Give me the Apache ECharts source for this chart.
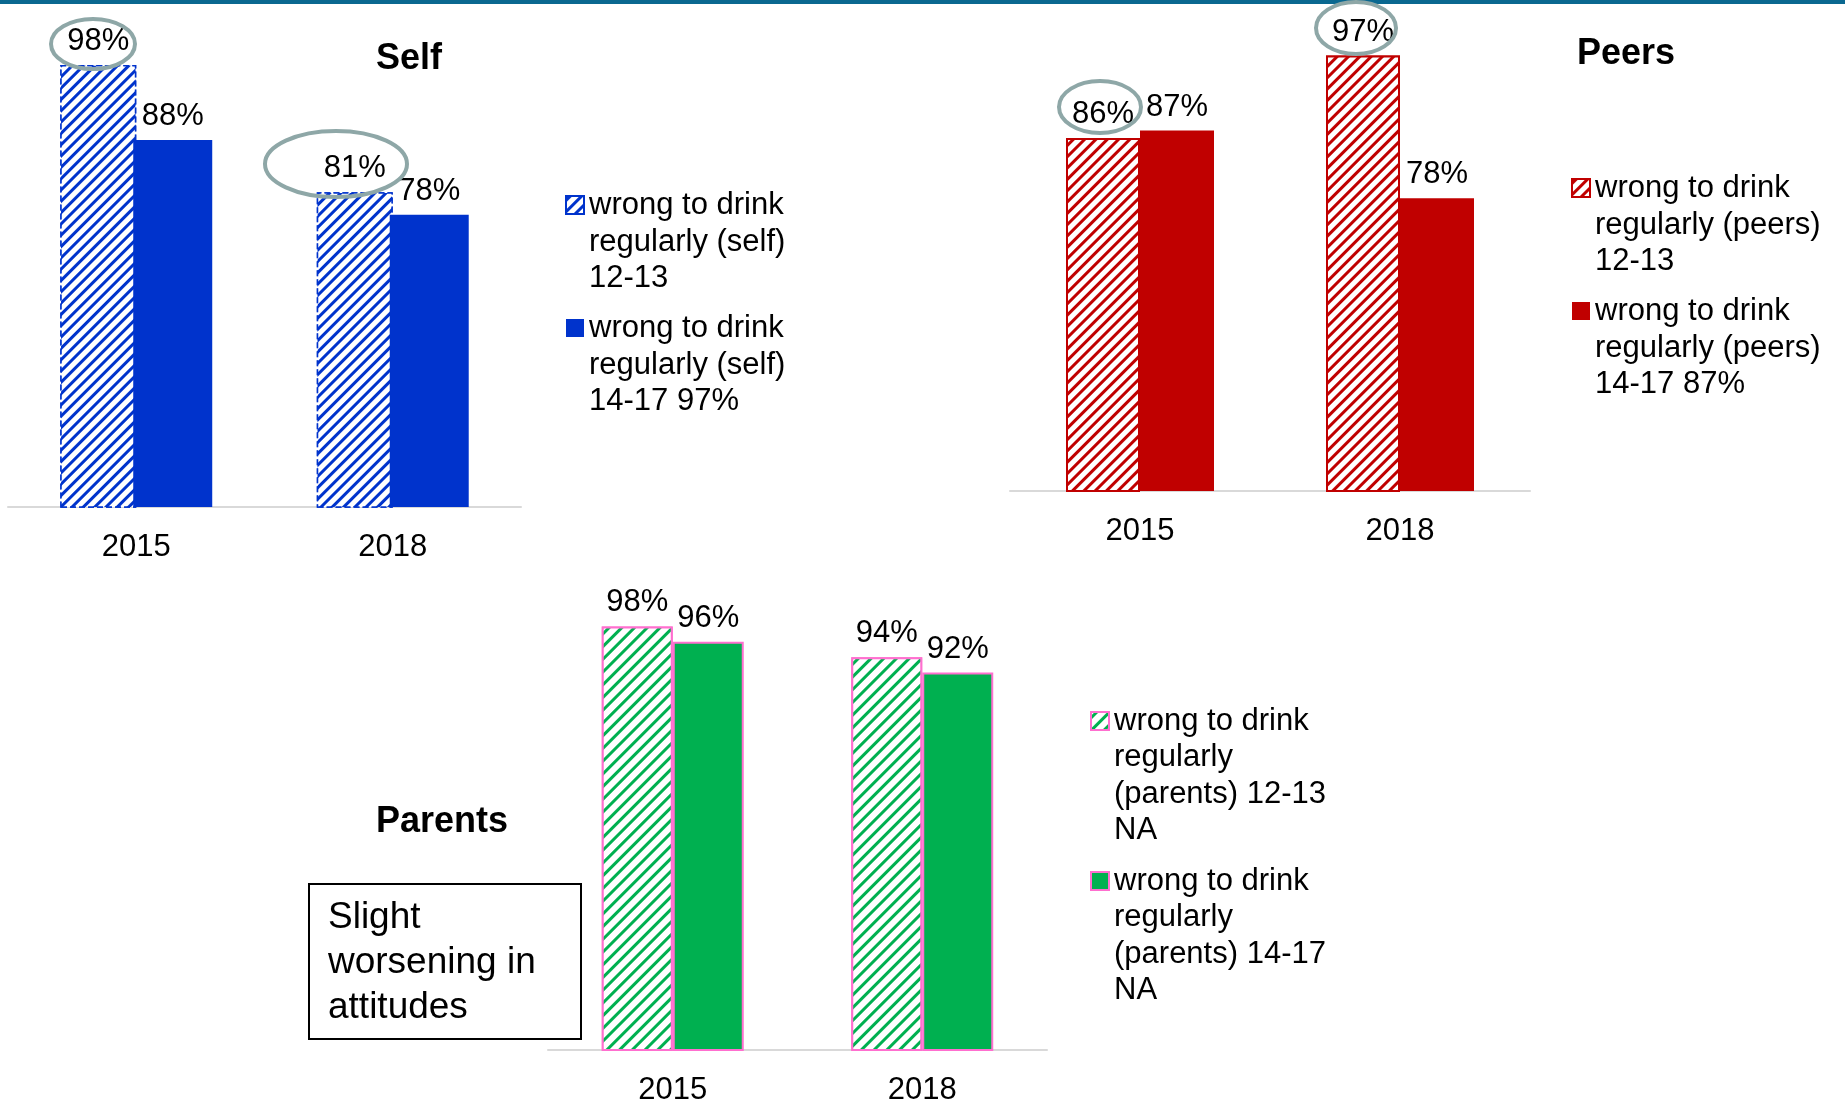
<!DOCTYPE html>
<html>
<head>
<meta charset="utf-8">
<title>wrong to drink regularly</title>
<script src="https://cdn.jsdelivr.net/npm/echarts@6/dist/echarts.min.js"></script>
<style>
  html, body { margin: 0; padding: 0; background: #fff; }
  #main { width: 1845px; height: 1109px; }
</style>
</head>
<body>
<div id="main"></div>
<script>
// categories
var years = ["2015", "2018"];

// self
var selfNames = ["wrong to drink\nregularly (self)\n12-13", "wrong to drink\nregularly (self)\n14-17 97%"];
var selfYoung = [98, 81];
var selfOlder = [88, 78];

// peers
var peersNames = ["wrong to drink\nregularly (peers)\n12-13", "wrong to drink\nregularly (peers)\n14-17 87%"];
var peersYoung = [86, 97];
var peersOlder = [87, 78];

// parents
var parentsNames = ["wrong to drink\nregularly\n(parents) 12-13\nNA", "wrong to drink\nregularly\n(parents) 14-17\nNA"];
var parentsYoung = [98, 94];
var parentsOlder = [96, 92];

var FONT = "'Liberation Sans', Arial, sans-serif";
var BLUE = "#0033cc", RED = "#c00000", GREEN = "#00b050", PINK = "#ff6fcf";

var myChart = echarts.init(document.getElementById("main"));

// diagonal hatch
function stripes(color, gap) {
  return {
    symbol: "rect",
    symbolSize: 1,
    color: color,
    backgroundColor: "#fff",
    dashArrayX: [1, 0],
    dashArrayY: [3, gap],
    rotation: -Math.PI / 4
  };
}

var barLabel = {
  show: true,
  position: "top",
  distance: 8,
  formatter: "{c}%",
  fontSize: 31,
  color: "#000",
  fontFamily: FONT
};

function xAxisFor(idx) {
  return {
    type: "category",
    gridIndex: idx,
    data: years,
    axisLine: { lineStyle: { color: "#d9d9d9", width: 2 } },
    axisTick: { show: false },
    axisLabel: { fontSize: 31, color: "#000", margin: 25, fontFamily: FONT }
  };
}

function yAxisFor(idx, min) {
  return { type: "value", gridIndex: idx, min: min, max: 100, show: false, splitLine: { show: false } };
}

// icon square sits on the first text line
function iconPath(h) {
  return "path://M0,0M18," + h + "M0,9h18v18h-18z";
}

function legendFor(names, left, top, h) {
  return {
    orient: "vertical",
    left: left,
    top: top,
    padding: 0,
    itemGap: 12,
    itemWidth: 18,
    itemHeight: h,
    icon: iconPath(h),
    selectedMode: false,
    data: names,
    textStyle: { fontSize: 31, lineHeight: 36.5, color: "#000", fontFamily: FONT }
  };
}

var titleStyle = { fontSize: 36, fontWeight: "bold", color: "#000", fontFamily: FONT };

var option = {
  animation: false,
  backgroundColor: "#fff",
  title: [
    { text: "Self", left: 376, top: 41, padding: 0, textStyle: titleStyle },
    { text: "Peers", left: 1577, top: 36, padding: 0, textStyle: titleStyle },
    { text: "Parents", left: 376, top: 804, padding: 0, textStyle: titleStyle }
  ],
  legend: [
    legendFor(selfNames, 565, 186, 110),
    legendFor(peersNames, 1571, 169, 110),
    legendFor(parentsNames, 1090, 702, 146)
  ],
  grid: [
    { left: 8, top: 50, width: 513, height: 457, outerBoundsMode: "none" },
    { left: 1010, top: 33, width: 520, height: 458, outerBoundsMode: "none" },
    { left: 548, top: 611, width: 499, height: 439, outerBoundsMode: "none" }
  ],
  xAxis: [xAxisFor(0), xAxisFor(1), xAxisFor(2)],
  yAxis: [yAxisFor(0, 39), yAxisFor(1, 39), yAxisFor(2, 43)],
  series: [
    {
      name: selfNames[0], type: "bar", xAxisIndex: 0, yAxisIndex: 0,
      data: selfYoung, barWidth: 76, barGap: "-4%", label: barLabel,
      itemStyle: { color: "#fff", decal: stripes(BLUE, 4.5), borderColor: BLUE, borderWidth: 1.5, borderType: "dashed" }
    },
    {
      name: selfNames[1], type: "bar", xAxisIndex: 0, yAxisIndex: 0,
      data: selfOlder, barWidth: 79, label: barLabel,
      itemStyle: { color: BLUE }
    },
    {
      name: peersNames[0], type: "bar", xAxisIndex: 1, yAxisIndex: 1,
      data: peersYoung, barWidth: 74, barGap: 0, label: barLabel,
      itemStyle: { color: "#fff", decal: stripes(RED, 5), borderColor: RED, borderWidth: 2 }
    },
    {
      name: peersNames[1], type: "bar", xAxisIndex: 1, yAxisIndex: 1,
      data: peersOlder, barWidth: 74, label: barLabel,
      itemStyle: { color: RED }
    },
    {
      name: parentsNames[0], type: "bar", xAxisIndex: 2, yAxisIndex: 2,
      data: parentsYoung, barWidth: 71, barGap: 0, label: barLabel,
      itemStyle: { color: "#fff", decal: stripes(GREEN, 5.5), borderColor: PINK, borderWidth: 2 }
    },
    {
      name: parentsNames[1], type: "bar", xAxisIndex: 2, yAxisIndex: 2,
      data: parentsOlder, barWidth: 71, label: barLabel,
      itemStyle: { color: GREEN, borderColor: PINK, borderWidth: 2 }
    }
  ],
  graphic: [
    // band along the top edge
    { type: "rect", shape: { x: 0, y: 0, width: 1845, height: 4 }, style: { fill: "#0a6890" } },
    // callout ellipses
    { type: "ellipse", z: 100, shape: { cx: 93, cy: 44, rx: 42, ry: 25 }, style: { fill: "none", stroke: "#8ea7a7", lineWidth: 4 } },
    { type: "ellipse", z: 100, shape: { cx: 336, cy: 164, rx: 71, ry: 33 }, style: { fill: "none", stroke: "#8ea7a7", lineWidth: 4 } },
    { type: "ellipse", z: 100, shape: { cx: 1100, cy: 107, rx: 41, ry: 26 }, style: { fill: "none", stroke: "#8ea7a7", lineWidth: 4 } },
    { type: "ellipse", z: 100, shape: { cx: 1356, cy: 28, rx: 40, ry: 26 }, style: { fill: "none", stroke: "#8ea7a7", lineWidth: 4 } },
    // note box
    { type: "rect", shape: { x: 309, y: 884, width: 272, height: 155 }, style: { fill: "#fff", stroke: "#000", lineWidth: 2 } },
    {
      type: "text", x: 328, y: 895,
      style: { text: "Slight\nworsening in\nattitudes", fontSize: 37, lineHeight: 45, fill: "#000", fontFamily: FONT, verticalAlign: "top" }
    }
  ]
};

myChart.setOption(option);
</script>
</body>
</html>
